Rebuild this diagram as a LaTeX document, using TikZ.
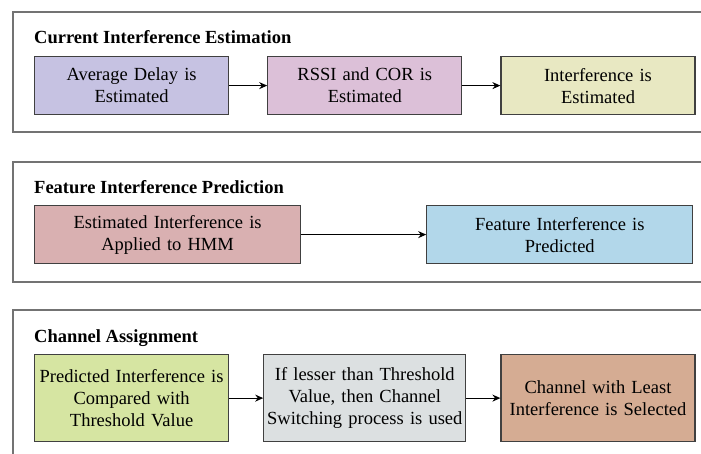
\documentclass[tikz,border=0pt]{standalone}
\usepackage{fontspec}
\setmainfont{Liberation Serif}
\usetikzlibrary{arrows.meta, positioning}
\definecolor{lavender}{HTML}{C6C2E2}
\definecolor{mauve}{HTML}{DCC0D8}
\definecolor{paleyellow}{HTML}{E8E8C2}
\definecolor{rose}{HTML}{D9B0B1}
\definecolor{skyblue}{HTML}{B2D7EA}
\definecolor{lime}{HTML}{D6E5A2}
\definecolor{silver}{HTML}{DCE0E1}
\definecolor{tan}{HTML}{D5AC93}
\tikzset{
    panel/.style={draw=black!55, line width=1.3pt},
    heading/.style={anchor=base west, inner sep=0pt, font=\fontsize{18.5}{22}\selectfont\bfseries},
    block/.style={rectangle, draw=black!75, line width=1.2pt, align=center, inner sep=0pt, minimum height=58pt, font=\fontsize{18.5}{22}\selectfont},
    arrow/.style={line width=1.2pt, -{Stealth[length=8pt, width=7pt]}}
}

\begin{document}
\begin{tikzpicture}[x=1pt, y=-1pt, node distance=38pt]
    \useasboundingbox (0,0) rectangle (701,453);
    \clip (0,0) rectangle (701,453);

    % Panels
    \draw [panel] (13,12) rectangle (720,132);
    \draw [panel] (13,162) rectangle (720,282);
    \draw [panel] (13,310) rectangle (720,480);

    % Headings
    \node [heading] (t1) at (34,43) {Current Interference Estimation};
    \node [heading] (t2) at (34,193) {Feature Interference Prediction};
    \node [heading] (t3) at (34,342) {Channel Assignment};

    % Current interference estimation
    \node (c1) [block, anchor=north west, fill=lavender, minimum width=194pt, text width=188pt] at (34,56) {Average Delay is\\Estimated};
    \node (c2) [block, right=of c1, fill=mauve, minimum width=194pt, text width=188pt] {RSSI and COR is\\Estimated};
    \node (c3) [block, right=of c2, fill=paleyellow, minimum width=194pt, text width=188pt] {Interference is\\Estimated};

    % Feature interference prediction
    \node (f1) [block, anchor=north west, fill=rose, minimum width=266pt, text width=260pt] at (34,205) {Estimated Interference is\\Applied to HMM};
    \node (f2) [block, right=125pt of f1, fill=skyblue, minimum width=266pt, text width=260pt] {Feature Interference is\\Predicted};

    % Channel assignment
    \node (a1) [block, anchor=north west, fill=lime, minimum width=194pt, minimum height=87pt, text width=190pt] at (34,354) {Predicted Interference is\\Compared with\\Threshold Value};
    \node (a2) [block, right=34pt of a1, fill=silver, minimum width=202pt, minimum height=87pt, text width=200pt] {If lesser than Threshold\\Value, then Channel\\Switching process is used};
    \node (a3) [block, right=34pt of a2, fill=tan, minimum width=194pt, minimum height=87pt, text width=190pt] {Channel with Least\\Interference is Selected};

    % Arrows
    \draw [arrow] (c1) -- (c2);
    \draw [arrow] (c2) -- (c3);
    \draw [arrow] (f1) -- (f2);
    \draw [arrow] (a1) -- (a2);
    \draw [arrow] (a2) -- (a3);

\end{tikzpicture}
\end{document}
